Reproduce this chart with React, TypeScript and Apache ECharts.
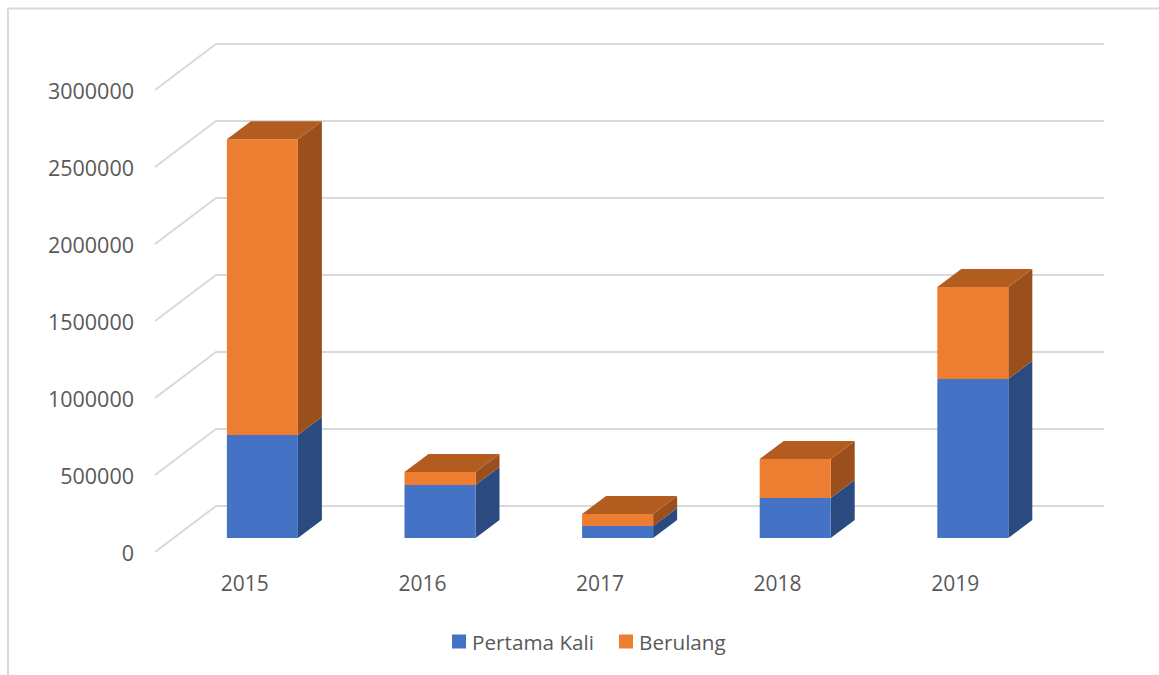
import React, { useEffect, useRef } from "react";
import * as echarts from "echarts";

const years = ["2015", "2016", "2017", "2018", "2019"];
const pertamaKali = [669000, 344000, 78000, 260000, 1032000];
const berulang = [1921000, 84000, 78000, 253000, 598000];
const gridTicks = [0, 500000, 1000000, 1500000, 2000000, 2500000, 3000000];

const FONT = "'Open Sans', sans-serif";
const TEXT = "#595959";
const GRID = "#d9d9d9";
const WALL_DX = 61;
const WALL_DY = 46;
const BAR_W = 71;
const BAR_SHIFT_X = 18.6;
const BAR_SHIFT_Y = 14;
const BAR_DX = 24;
const BAR_DY = 18;

function barRenderer(front: string, side: string, top: string, withTop: boolean) {
  return (_params: any, api: any) => {
    const cat = api.value(0);
    const p0 = api.coord([cat, api.value(1)]);
    const p1 = api.coord([cat, api.value(2)]);
    const x0 = p0[0] + BAR_SHIFT_X - BAR_W / 2;
    const x1 = x0 + BAR_W;
    const yb = p0[1] - BAR_SHIFT_Y;
    const yt = p1[1] - BAR_SHIFT_Y;
    const children: any[] = [
      {
        type: "polygon",
        shape: { points: [[x1, yb], [x1 + BAR_DX, yb - BAR_DY], [x1 + BAR_DX, yt - BAR_DY], [x1, yt]] },
        style: { fill: side },
      },
      {
        type: "rect",
        shape: { x: x0, y: yt, width: BAR_W, height: yb - yt },
        style: { fill: front },
      },
    ];
    if (withTop) {
      children.push({
        type: "polygon",
        shape: { points: [[x0, yt], [x0 + BAR_DX, yt - BAR_DY], [x1 + BAR_DX, yt - BAR_DY], [x1, yt]] },
        style: { fill: top },
      });
    }
    return { type: "group", children };
  };
}

function stackData(base: number[], vals: number[]) {
  return vals.map((v, i) => [i, base[i], base[i] + v]);
}

export default function App() {
  const ref = useRef<HTMLDivElement>(null);
  useEffect(() => {
    const chart = echarts.init(ref.current!, null, { renderer: "svg" });
    const zeros = years.map(() => 0);
    chart.setOption({
      animation: false,
      backgroundColor: "#ffffff",
      graphic: [
        {
          type: "polyline",
          silent: true,
          shape: { points: [[8, 675], [8, 8.5], [1159, 8.5]] },
          style: { stroke: GRID, lineWidth: 2, fill: "none" },
        },
      ],
      grid: { left: 155, top: 90, width: 888, height: 462 },
      legend: {
        data: ["Pertama Kali", "Berulang"],
        left: 447,
        top: 626,
        itemWidth: 14,
        itemHeight: 14,
        itemGap: 25,
        icon: "rect",
        textStyle: { color: TEXT, fontFamily: FONT, fontSize: 20.7, padding: [0, 0, 0, 1] },
      },
      xAxis: {
        type: "category",
        data: years,
        axisLine: { show: false },
        axisTick: { show: false },
        axisLabel: { color: TEXT, fontFamily: FONT, fontSize: 21, margin: 20, padding: [0, 0, 0, 2] },
      },
      yAxis: {
        type: "value",
        min: 0,
        max: 3000000,
        interval: 500000,
        axisLine: { show: false },
        axisTick: { show: false },
        splitLine: { show: false },
        axisLabel: {
          color: TEXT,
          fontFamily: FONT,
          fontSize: 21.5,
          margin: 21,
          padding: [8, 0, 0, 0],
          formatter: (v: number) => String(v),
        },
      },
      series: [
        {
          type: "custom",
          name: "walls",
          silent: true,
          z: 1,
          data: gridTicks.map((t) => [t]),
          encode: { y: 0 },
          renderItem: (params: any, api: any) => {
            const y = api.coord([0, api.value(0)])[1];
            const left = params.coordSys.x;
            const right = left + params.coordSys.width;
            return {
              type: "polyline",
              shape: {
                points: [
                  [left, y],
                  [left + WALL_DX, y - WALL_DY],
                  [right + WALL_DX, y - WALL_DY],
                ],
              },
              style: { stroke: GRID, lineWidth: 2, fill: "none" },
            };
          },
        },
        {
          type: "custom",
          name: "Pertama Kali",
          z: 2,
          itemStyle: { color: "#4472c4" },
          data: stackData(zeros, pertamaKali),
          encode: { x: 0, y: [1, 2] },
          renderItem: barRenderer("#4472c4", "#2a4a80", "#3660a8", false),
        },
        {
          type: "custom",
          name: "Berulang",
          z: 3,
          itemStyle: { color: "#ed7d31" },
          data: stackData(pertamaKali, berulang),
          encode: { x: 0, y: [1, 2] },
          renderItem: barRenderer("#ed7d31", "#9a4f1c", "#b25c20", true),
        },
      ],
    });
    return () => chart.dispose();
  }, []);
  return <div ref={ref} style={{ position: "fixed", left: 0, top: 0, width: 1159, height: 675 }} />;
}
